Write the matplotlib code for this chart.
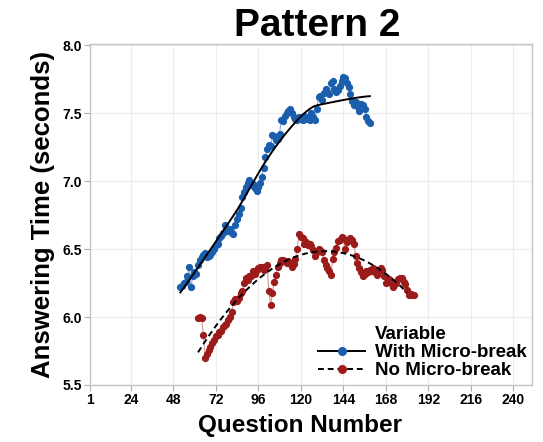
import matplotlib
matplotlib.use('Agg')
import matplotlib.pyplot as plt
from matplotlib.lines import Line2D
import numpy as np

plt.rcParams['font.family'] = ['Liberation Sans', 'DejaVu Sans']
plt.rcParams['font.weight'] = 'bold'

# answering time per question, pattern 2
q_with_start = 52
with_break = [6.22, 6.23, 6.25, 6.26, 6.30, 6.37, 6.22, 6.30, 6.33, 6.32,
              6.38, 6.42, 6.44, 6.46, 6.47, 6.44, 6.45, 6.46, 6.48, 6.50,
              6.53, 6.54, 6.58, 6.60, 6.62, 6.68, 6.64, 6.63, 6.65, 6.62,
              6.61, 6.68, 6.72, 6.76, 6.80, 6.88, 6.92, 6.96, 6.99, 7.01,
              6.97, 6.98, 6.95, 6.93, 6.96, 6.99, 7.03, 7.10, 7.18, 7.24,
              7.27, 7.26, 7.34, 7.33, 7.30, 7.31, 7.35, 7.45, 7.44, 7.48,
              7.50, 7.52, 7.53, 7.50, 7.47, 7.46, 7.45, 7.47, 7.46, 7.45,
              7.48, 7.46, 7.47, 7.45, 7.50, 7.47, 7.45, 7.53, 7.62, 7.63,
              7.60, 7.65, 7.68, 7.66, 7.64, 7.72, 7.74, 7.68, 7.66, 7.67,
              7.70, 7.74, 7.77, 7.76, 7.72, 7.69, 7.64, 7.59, 7.56, 7.58,
              7.55, 7.52, 7.57, 7.56, 7.53, 7.47, 7.44, 7.43]

q_no_start = 62
no_break = [5.99, 6.00, 5.99, 5.87, 5.70, 5.73, 5.76, 5.78, 5.81, 5.83,
            5.86, 5.87, 5.89, 5.90, 5.93, 5.94, 5.95, 5.98, 6.00, 6.04,
            6.11, 6.13, 6.12, 6.14, 6.18, 6.19, 6.25, 6.29, 6.27, 6.30,
            6.30, 6.34, 6.32, 6.35, 6.36, 6.37, 6.37, 6.35, 6.36, 6.38,
            6.19, 6.09, 6.18, 6.26, 6.31, 6.37, 6.40, 6.42, 6.42, 6.41,
            6.40, 6.41, 6.40, 6.37, 6.39, 6.43, 6.50, 6.61, 6.59, 6.58,
            6.54, 6.55, 6.53, 6.54, 6.52, 6.49, 6.45, 6.48, 6.50, 6.49,
            6.48, 6.42, 6.38, 6.36, 6.34, 6.31, 6.43, 6.48, 6.51, 6.56,
            6.57, 6.59, 6.58, 6.50, 6.55, 6.57, 6.58, 6.57, 6.54, 6.45,
            6.40, 6.36, 6.33, 6.30, 6.32, 6.34, 6.33, 6.35, 6.34, 6.36,
            6.33, 6.31, 6.34, 6.36, 6.35, 6.30, 6.25, 6.27, 6.28, 6.25,
            6.22, 6.24, 6.26, 6.28, 6.29, 6.29, 6.26, 6.24, 6.20, 6.16,
            6.17, 6.16, 6.16]

x_ticks = [1, 24, 48, 72, 96, 120, 144, 168, 192, 216, 240]
y_ticks = [5.5, 6.0, 6.5, 7.0, 7.5, 8.0]

blue = '#1b5eae'
red = '#9c1b1b'


def lowess(x, y, frac):
    # local linear fit with tricube weights
    n = len(x)
    k = int(np.ceil(frac * n))
    out = np.empty(n)
    for i in range(n):
        d = np.abs(x - x[i])
        h = np.sort(d)[k - 1]
        w = np.clip(1 - (d / h) ** 3, 0, None) ** 3
        sw = np.sqrt(w)
        A = np.vstack([np.ones(n), x - x[i]]).T
        beta = np.linalg.lstsq(A * sw[:, None], y * sw, rcond=None)[0]
        out[i] = beta[0]
    return out


x1 = np.arange(q_with_start, q_with_start + len(with_break))
y1 = np.array(with_break)
x2 = np.arange(q_no_start, q_no_start + len(no_break))
y2 = np.array(no_break)

fig = plt.figure(figsize=(5.43, 4.42), dpi=100)
ax = fig.add_axes([0.1657, 0.129, 0.814, 0.7715])

# raw series
ax.plot(x1, y1, color='#8fb0dc', lw=0.8, zorder=2)
ax.plot(x1, y1, 'o', color=blue, ms=4.2, mec=blue, zorder=3)
ax.plot(x2, y2, color='#d49a9a', lw=0.8, zorder=2)
ax.plot(x2, y2, 'o', color=red, ms=4.2, mec=red, zorder=3)

# trend lines: smoothed for the micro-break series, cubic for the other
ax.plot(x1, lowess(x1, y1, 0.6), color='black', lw=1.4, zorder=4)
c2 = np.polyfit(x2, y2, 3)
xf2 = np.linspace(x2[0], x2[-1] - 4, 200)
ax.plot(xf2, np.polyval(c2, xf2), color='black', lw=1.4, ls=(0, (3, 2)), zorder=4)

ax.set_xlim(1, 250.5)
ax.set_ylim(5.5, 8.01)
ax.set_xticks(x_ticks)
ax.set_yticks(y_ticks)
ax.set_yticklabels(['%.1f' % v for v in y_ticks])
ax.tick_params(labelsize=10, length=4, color='#b0b0b0', pad=2)
for lab in ax.get_xticklabels() + ax.get_yticklabels():
    lab.set_fontweight('bold')
ax.grid(True, color='#ececec', lw=0.8)
ax.set_axisbelow(True)
for s in ax.spines.values():
    s.set_color('#c4c4c4')
    s.set_linewidth(1.0)

ax.set_xlabel('Question Number', fontsize=17.5, fontweight='bold')
ax.xaxis.set_label_coords(0.475, -0.085)
ax.set_ylabel('Answering Time (seconds)', fontsize=18.5, fontweight='bold', labelpad=5)
ax.set_title('Pattern 2', fontsize=28, fontweight='bold', pad=5, x=0.515)

handles = [Line2D([], [], color='none'),
           Line2D([], [], color='black', lw=1.4, marker='o', ms=5.5, mfc=blue, mec=blue),
           Line2D([], [], color='black', lw=1.4, ls=(0, (3, 2)), marker='o', ms=5.5, mfc=red, mec=red)]
labels = ['Variable', 'With Micro-break', 'No Micro-break']
leg = ax.legend(handles, labels, loc='lower right', frameon=False,
                prop={'size': 13.5, 'weight': 'bold'}, handlelength=2.5,
                handletextpad=0.5, labelspacing=0.05, borderaxespad=0.1,
                borderpad=0.2)

fig.savefig('out.png', dpi=100)
